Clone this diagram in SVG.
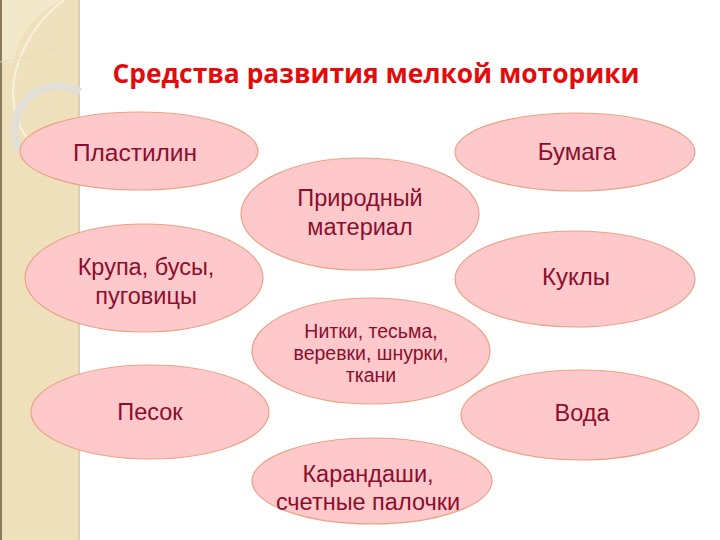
<svg xmlns="http://www.w3.org/2000/svg" width="720" height="540" viewBox="0 0 720 540">
<defs>
<style>
.n{fill:#FFC9CC;stroke:#E9A383;stroke-width:1.2}
.t{font-family:"Liberation Sans",Arial,sans-serif;font-size:23.5px;fill:#8A0E2E;text-anchor:middle}
.s{font-size:19.5px}
.title{font-family:"Open Sans","Liberation Sans",sans-serif;font-weight:bold;font-size:26px;fill:#E30B0B;text-anchor:middle}
</style>
<pattern id="dots" width="4" height="4" patternUnits="userSpaceOnUse">
<rect width="4" height="4" fill="#EEE1BC"/>
<circle cx="1" cy="1" r="0.6" fill="#E6D7AE"/>
</pattern>
</defs>
<rect width="720" height="540" fill="#FFFFFF"/>
<g id="band">
<rect x="0" y="0" width="80" height="540" fill="url(#dots)"/>
<path d="M0,0 L62,0 Q20,20 14,62 L0,62 Z" fill="#F4EBD0" opacity="0.7"/>
<rect x="0" y="0" width="2" height="540" fill="#8C7B58"/>
<rect x="78" y="0" width="2" height="540" fill="#DDD0AE"/>
<path d="M64,0 C30,25 8,70 14,105 C18,130 30,145 40,150" fill="none" stroke="#F8F1DD" stroke-width="2"/>
<path d="M0,62 Q30,58 60,48" fill="none" stroke="#E8DDBE" stroke-width="1"/>
<path d="M19,150 A44,44 0 0 1 80,92" fill="none" stroke="#E2DFD6" stroke-width="8"/>
</g>
<text class="title" x="376" y="83" textLength="527" lengthAdjust="spacingAndGlyphs">Средства развития мелкой моторики</text>
<g id="connectors"></g>
<g id="plastilin"><ellipse class="n" cx="139" cy="151" rx="119" ry="39"/><text class="t" x="135" y="161" style="font-size:24.5px">Пластилин</text></g>
<g id="bumaga"><ellipse class="n" cx="575" cy="152" rx="120" ry="39"/><text class="t" x="577" y="160" style="font-size:24px">Бумага</text></g>
<g id="prirodny"><ellipse class="n" cx="360" cy="214" rx="119" ry="56"/><text class="t" x="360" y="206">Природный</text><text class="t" x="360" y="235">материал</text></g>
<g id="krupa"><ellipse class="n" cx="144" cy="278" rx="119" ry="54"/><text class="t" x="146" y="275">Крупа, бусы,</text><text class="t" x="146" y="304">пуговицы</text></g>
<g id="kukly"><ellipse class="n" cx="575" cy="279" rx="120" ry="48"/><text class="t" x="576" y="285" style="font-size:24px">Куклы</text></g>
<g id="nitki"><ellipse class="n" cx="371" cy="351" rx="119" ry="53"/><text class="t s" x="371" y="338">Нитки, тесьма,</text><text class="t s" x="371" y="360">веревки, шнурки,</text><text class="t s" x="371" y="382">ткани</text></g>
<g id="pesok"><ellipse class="n" cx="150" cy="412" rx="119" ry="47"/><text class="t" x="150" y="420">Песок</text></g>
<g id="voda"><ellipse class="n" cx="580" cy="415" rx="119" ry="45"/><text class="t" x="582" y="421">Вода</text></g>
<g id="karandashi"><ellipse class="n" cx="372" cy="481" rx="120" ry="43"/><text class="t" x="368" y="482">Карандаши,</text><text class="t" x="368" y="510">счетные палочки</text></g>
</svg>
